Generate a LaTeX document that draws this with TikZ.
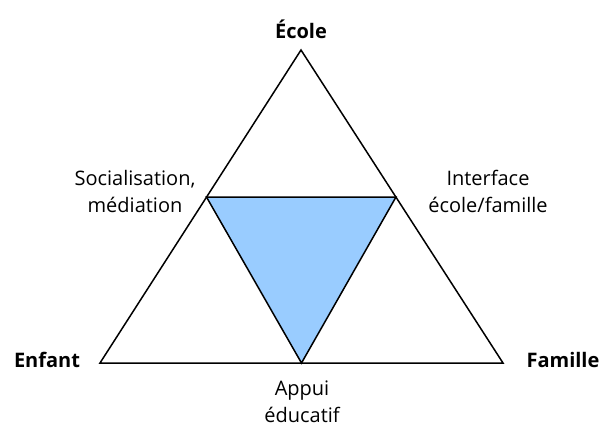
\documentclass[tikz,border=0pt]{standalone}
\usepackage{fontspec}
\setmainfont{Open Sans}
\usetikzlibrary{calc}
\definecolor{bleuclair}{RGB}{153,204,255}

\begin{document}
\begin{tikzpicture}[x=1pt,y=1pt,
    sommet/.style={font=\bfseries\fontsize{20}{24}\selectfont},
    cote/.style={font=\fontsize{20}{27}\selectfont,align=center}]
    \useasboundingbox (0,0) rectangle (605,432);
    %sommets du grand triangle
    \coordinate (E) at (301,382);
    \coordinate (En) at (100,69);
    \coordinate (F) at (503,69);
    %sommets du triangle interieur
    \coordinate (SM) at ($(E)!0.47!(En)$);
    \coordinate (IF) at ($(E)!0.47!(F)$);
    \coordinate (AE) at ($(En)!0.5!(F)$);
    %triangle interieur
    \draw[fill=bleuclair,line width=1.5pt,line join=miter](SM)--(IF)--(AE)--cycle;
    %grand triangle
    \draw[line width=1.5pt](E)--(En)--(F)--cycle;
    %etiquettes
    \node[sommet] (ecole) at (301,403){École};
    \node[sommet] (enfant) at (47,72){Enfant};
    \node[sommet] (famille) at (563,72){Famille};
    \node[cote] (social) at (135,241){Socialisation,\\médiation};
    \node[cote] (interface) at (488,241){Interface\\école/famille};
    \node[cote] (appui) at (302,30){Appui\\éducatif};
\end{tikzpicture}
\end{document}
